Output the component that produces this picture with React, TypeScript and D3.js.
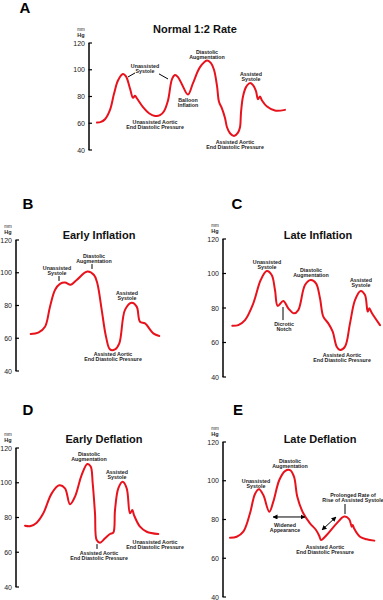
import React from "react";
import * as d3 from "d3";

type Pt = [number, number];
type Note = { lines: string[]; t: number; v: number };
type Seg = [number, number, number, number];

const yTicks = [40, 60, 80, 100, 120];

const curveA: Pt[] = [
  [8, 60.5], [12, 61], [16, 63], [21, 70], [25, 82], [29, 92], [34, 96.8], [37, 95], [41, 86], [44, 79],
  [46, 80.5], [48, 78.5], [54, 72], [60, 67.5], [66, 65.5], [71, 66], [75, 69], [79, 77], [83, 93], [86, 96],
  [89, 94.5], [93, 89], [99, 81.5], [104, 90], [111, 102], [118, 107], [122, 105], [125, 100], [128, 88],
  [130, 76], [133, 71], [136, 64], [138, 57], [141, 52.5], [145, 50.5], [149, 53], [151, 57], [152, 68],
  [154, 80], [157, 87], [161, 90], [164, 88.5], [167, 84], [169, 78], [171, 80], [173, 77], [178, 72.5],
  [186, 69.5], [196, 70],
];
const curveB: Pt[] = [
  [14.7, 62.6], [22.3, 63.4], [29, 67], [34, 79.3], [39, 89.5], [44, 93.2], [49, 94], [54.7, 92.7],
  [60.7, 95.6], [71.3, 100.7], [78, 98.6], [81.3, 93.6], [85.7, 77.3], [90, 61], [94, 53.2], [99, 53.2],
  [103.3, 56.9], [109, 77.3], [115.7, 81.7], [120.7, 79.3], [124, 70.1], [129, 69.1], [137.3, 63], [143.3, 61.4],
];
const curveC: Pt[] = [
  [9.3, 69.7], [15.3, 70.1], [22, 73], [30.3, 82.7], [37.7, 96.2], [43.7, 101.4], [48.7, 99.1], [52, 90.4],
  [54.7, 81.2], [60.3, 84.1], [65.3, 79.8], [71, 76.9], [75.3, 78.8], [82, 93.3], [87.7, 96.2], [93, 94.3],
  [97, 85.6], [100.3, 75], [105.3, 71.1], [109.7, 66.3], [113.7, 57.6], [117, 55.7], [122, 57.6], [127, 71.1],
  [132, 84.6], [137.7, 89.9], [142, 87.5], [144.7, 77.9], [146.3, 79.8], [148.7, 77.3], [157, 70.1],
];
const curveD: Pt[] = [
  [9, 75.3], [14.7, 75.1], [20.7, 77], [27.3, 82.4], [35.7, 93.9], [43.3, 98.5], [49, 96.8], [54, 87.6],
  [59, 92], [65.7, 104.5], [71.3, 110.8], [74.7, 109.3], [76.7, 99.7], [79, 82.4], [80.7, 67], [84, 65.5],
  [89, 68], [94, 70.5], [97.3, 71.3], [99, 84.3], [102.3, 96.8], [106.7, 100.6], [110.7, 96.8], [114, 82.4],
  [116.3, 84.3], [118, 81.4], [124, 74.7], [130.7, 71.8], [142.3, 70.5],
];
const curveE: Pt[] = [
  [7, 70.6], [13.7, 71.1], [20.3, 73.7], [27, 83.2], [32, 93.2], [36, 95.6], [40.3, 92.6], [46.3, 84],
  [50.3, 89.2], [56.3, 100.4], [62, 105], [67, 105.5], [71, 102.1], [74.3, 91.8], [80.3, 83.2], [87, 78],
  [93, 74.6], [96.3, 71.5], [98, 69.4], [103.7, 72], [113.7, 78], [121.3, 81.5], [126.3, 80.1], [128.7, 76.3],
  [129.7, 77.2], [131, 75.5], [137, 71.1], [143.7, 69.8], [151.3, 69.1],
];

const notesA: Note[] = [
  { lines: ["Unassisted", "Systole"], t: 56, v: 101.3 },
  { lines: ["Diastolic", "Augmentation"], t: 118, v: 111.8 },
  { lines: ["Balloon", "Inflation"], t: 99, v: 75.9 },
  { lines: ["Assisted", "Systole"], t: 162, v: 95.3 },
  { lines: ["Unassisted Aortic", "End Diastolic Pressure"], t: 66, v: 59.4 },
  { lines: ["Assisted Aortic", "End Diastolic Pressure"], t: 146, v: 44.5 },
];
const notesB: Note[] = [
  { lines: ["Unassisted", "Systole"], t: 41, v: 101.7 },
  { lines: ["Diastolic", "Augmentation"], t: 78, v: 109 },
  { lines: ["Assisted", "Systole"], t: 111, v: 86.4 },
  { lines: ["Assisted Aortic", "End Diastolic Pressure"], t: 97, v: 49.2 },
];
const notesC: Note[] = [
  { lines: ["Unassisted", "Systole"], t: 44, v: 105.5 },
  { lines: ["Dicrotic", "Notch"], t: 61, v: 69.6 },
  { lines: ["Diastolic", "Augmentation"], t: 88, v: 100.9 },
  { lines: ["Assisted", "Systole"], t: 138, v: 95.1 },
  { lines: ["Assisted Aortic", "End Diastolic Pressure"], t: 119, v: 51.6 },
];
const notesD: Note[] = [
  { lines: ["Diastolic", "Augmentation"], t: 73, v: 115.4 },
  { lines: ["Assisted", "Systole"], t: 101, v: 105 },
  { lines: ["Assisted Aortic", "End Diastolic Pressure"], t: 83, v: 58.4 },
  { lines: ["Unassisted Aortic", "End Diastolic Pressure"], t: 139, v: 64.7 },
];
const notesE: Note[] = [
  { lines: ["Unassisted", "Systole"], t: 33, v: 98.8 },
  { lines: ["Diastolic", "Augmentation"], t: 67, v: 109.2 },
  { lines: ["Widened", "Appearance"], t: 62, v: 76.1 },
  { lines: ["Prolonged Rate of", "Rise of Assisted Systole"], t: 130, v: 91.6 },
  { lines: ["Assisted Aortic", "End Diastolic Pressure"], t: 102, v: 64.8 },
];

const leadersA: Seg[] = [[46, 97.6, 39, 94.6], [70, 96.9, 79, 93.1]];
const leadersB: Seg[] = [[43, 98, 43, 95], [76, 105.3, 76, 102.3]];
const leadersC: Seg[] = [[60, 80.6, 60, 73]];
const leadersD: Seg[] = [[81, 64.7, 81, 61.9]];
const leadersE: Seg[] = [[122, 88, 122, 82.8]];
const arrowsE: Seg[] = [[50, 81.3, 82, 81.3], [99, 74.6, 113, 81.3]];

const panels = [
  { letter: "A", title: "Normal 1:2 Rate", axisX: 89, y120: 43, y40: 150, letterX: 25, letterY: 13, titleX: 195, titleY: 33, curve: curveA, notes: notesA, leaders: leadersA, arrows: [] as Seg[] },
  { letter: "B", title: "Early Inflation", axisX: 16, y120: 240, y40: 371, letterX: 28, letterY: 209, titleX: 99, titleY: 239, curve: curveB, notes: notesB, leaders: leadersB, arrows: [] as Seg[] },
  { letter: "C", title: "Late Inflation", axisX: 223, y120: 239, y40: 377, letterX: 237, letterY: 209, titleX: 318, titleY: 239, curve: curveC, notes: notesC, leaders: leadersC, arrows: [] as Seg[] },
  { letter: "D", title: "Early Deflation", axisX: 16, y120: 448, y40: 587, letterX: 28, letterY: 415, titleX: 104, titleY: 443, curve: curveD, notes: notesD, leaders: leadersD, arrows: [] as Seg[] },
  { letter: "E", title: "Late Deflation", axisX: 223, y120: 442, y40: 597, letterX: 238, letterY: 415, titleX: 320, titleY: 443, curve: curveE, notes: notesE, leaders: leadersE, arrows: arrowsE },
];

const FONT = "'Liberation Sans', Arial, Helvetica, sans-serif";
const RED = "#e8121c";

function Panel({ p }: { p: (typeof panels)[number] }) {
  const x = d3.scaleLinear().domain([0, 200]).range([p.axisX, p.axisX + 200]);
  const y = d3.scaleLinear().domain([40, 120]).range([p.y40, p.y120]);
  const line = d3
    .line<Pt>()
    .x((d) => x(d[0]))
    .y((d) => y(d[1]))
    .curve(d3.curveCatmullRom.alpha(0.5));
  return (
    <g fontFamily={FONT}>
      <text x={p.letterX} y={p.letterY} fontSize={15} fontWeight="bold" textAnchor="middle" fill="#000">
        {p.letter}
      </text>
      <text x={p.titleX} y={p.titleY} fontSize={11} fontWeight="bold" textAnchor="middle" fill="#111">
        {p.title}
      </text>
      <text x={p.axisX - 8} y={p.y120 - 12} fontSize={4.5} textAnchor="middle" fill="#222">mm</text>
      <text x={p.axisX - 8} y={p.y120 - 6.5} fontSize={5.5} fontWeight="bold" textAnchor="middle" fill="#222">Hg</text>
      <line x1={p.axisX} x2={p.axisX} y1={y(120)} y2={y(40)} stroke="#000" strokeWidth={1.5} />
      {yTicks.map((t) => (
        <g key={t}>
          <line x1={p.axisX - 0.5} x2={p.axisX + 3} y1={y(t)} y2={y(t)} stroke="#000" strokeWidth={1.2} />
          <text x={p.axisX - 4} y={y(t) + 2.5} fontSize={7} textAnchor="end" fill="#222">
            {t}
          </text>
        </g>
      ))}
      <path d={line(p.curve) || ""} fill="none" stroke={RED} strokeWidth={2} strokeLinejoin="round" strokeLinecap="round" />
      {p.notes.map((n, i) => (
        <text key={i} x={x(n.t)} y={y(n.v)} fontSize={5.3} fontWeight="bold" textAnchor="middle" fill="#222">
          {n.lines.map((l, j) => (
            <tspan key={j} x={x(n.t)} dy={j === 0 ? 0 : 5.2}>
              {l}
            </tspan>
          ))}
        </text>
      ))}
      {p.leaders.map((s, i) => (
        <line key={i} x1={x(s[0])} y1={y(s[1])} x2={x(s[2])} y2={y(s[3])} stroke="#000" strokeWidth={1} />
      ))}
      {p.arrows.map((s, i) => (
        <line key={i} x1={x(s[0])} y1={y(s[1])} x2={x(s[2])} y2={y(s[3])} stroke="#000" strokeWidth={1}
          markerStart="url(#arr)" markerEnd="url(#arr)" />
      ))}
    </g>
  );
}

export default function App() {
  return (
    <svg width={383} height={600} viewBox="0 0 383 600" style={{ position: "absolute", left: 0, top: 0, background: "#fff" }}>
      <defs>
        <marker id="arr" viewBox="0 0 10 10" refX="9" refY="5" markerWidth="5" markerHeight="5" orient="auto-start-reverse" markerUnits="userSpaceOnUse">
          <path d="M0,0 L10,5 L0,10 z" fill="#000" />
        </marker>
      </defs>
      <rect x={0} y={0} width={383} height={600} fill="#fff" />
      {panels.map((p) => (
        <Panel key={p.letter} p={p} />
      ))}
    </svg>
  );
}
